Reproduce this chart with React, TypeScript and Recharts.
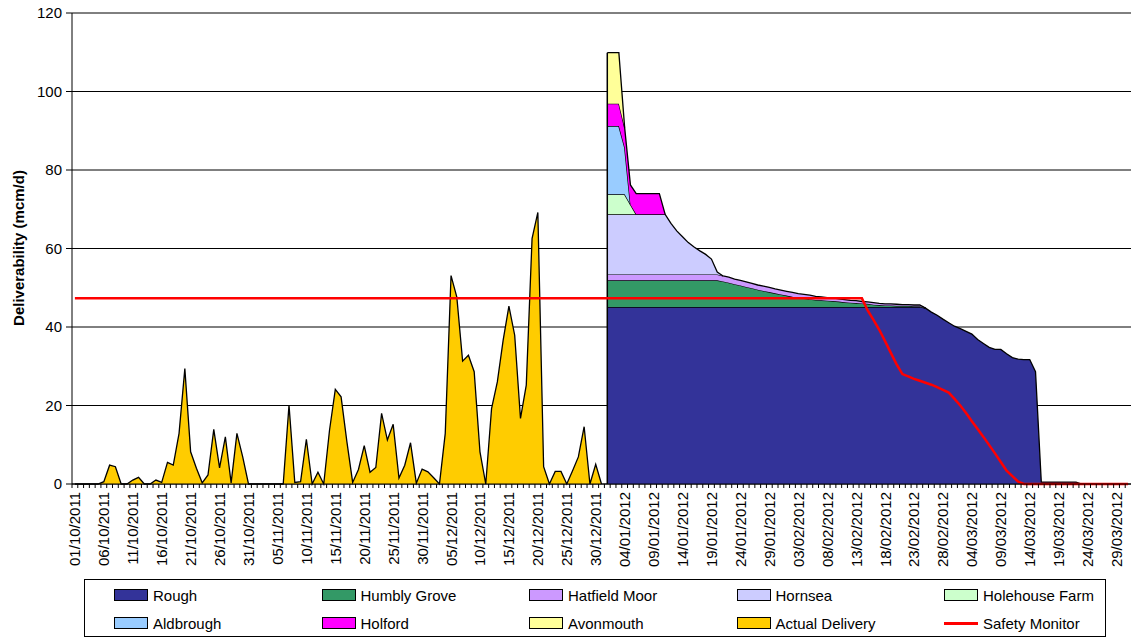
import React from 'react';
import {
  ComposedChart,
  Area,
  Line,
  XAxis,
  YAxis,
  CartesianGrid,
  ReferenceLine,
} from 'recharts';

// one row per gas day, 01/10/2011 .. 31/03/2012
const START = Date.UTC(2011, 9, 1);
const DAYS = 183;
const STORAGE_START = 92; // storage forecast begins 01/01/2012

const dateLabels = Array.from({ length: DAYS }, (_, i) => {
  const d = new Date(START + i * 86400000);
  const dd = String(d.getUTCDate()).padStart(2, '0');
  const mm = String(d.getUTCMonth() + 1).padStart(2, '0');
  return `${dd}/${mm}/${d.getUTCFullYear()}`;
});

// days 0..91
const actualDelivery = [
  0, 0, 0, 0, 0, 0.6, 4.8, 4.4, 0, 0,
  1.0, 1.7, 0, 0, 1.0, 0.4, 5.5, 4.8, 12.9, 29.4,
  8.2, 4.0, 0.3, 2.3, 13.9, 4.1, 12.0, 0.3, 12.9, 6.9,
  0, 0, 0, 0, 0, 0, 0, 20.1, 0.4, 0.6,
  11.4, 0, 3.0, 0, 13.7, 24.1, 22.2, 10.8, 0.4, 3.7,
  9.8, 3.0, 4.2, 18.0, 11.2, 15.2, 1.5, 4.8, 10.5, 0.2,
  3.8, 3.1, 1.6, 0, 12.9, 53.1, 47.6, 31.3, 32.8, 28.6,
  8.2, 0, 19.2, 26.0, 36.6, 45.3, 37.9, 16.7, 25.2, 62.5,
  69.2, 4.4, 0, 3.2, 3.2, 0, 3.4, 6.9, 14.6, 0,
  5.0, 0,
];

// storage series, from day 92 (01/01/2012)
const rough = [
  45.1, 45.1, 45.1, 45.1, 45.1, 45.1, 45.1, 45.1, 45.1, 45.1,
  45.1, 45.1, 45.1, 45.1, 45.1, 45.1, 45.1, 45.1, 45.1, 45.1,
  45.1, 45.1, 45.1, 45.1, 45.1, 45.1, 45.1, 45.1, 45.1, 45.1,
  45.1, 45.1, 45.1, 45.1, 45.1, 45.1, 45.1, 45.1, 45.1, 45.1,
  45.1, 45.1, 45.1, 45.1, 45.1, 45.1, 45.1, 45.1, 45.1, 45.1,
  45.1, 45.1, 45.1, 45.1, 45.1, 44.8, 43.8, 43.0, 42.0, 41.1,
  40.2, 39.6, 38.9, 38.2, 36.8, 35.8, 34.8, 34.3, 34.3, 33.2,
  32.2, 31.8, 31.7, 31.7, 28.6, 0.5, 0.5, 0.5, 0.5, 0.5,
  0.5, 0.5, 0, 0, 0, 0, 0, 0, 0, 0,
  0,
];
const humblyGrove = [
  6.8, 6.8, 6.8, 6.8, 6.8, 6.8, 6.8, 6.8, 6.8, 6.8,
  6.8, 6.8, 6.8, 6.8, 6.8, 6.8, 6.8, 6.8, 6.8, 6.8,
  6.5, 6.2, 5.8, 5.5, 5.1, 4.8, 4.4, 4.1, 3.8, 3.5,
  3.2, 2.9, 2.6, 2.3, 2.2, 2.0, 1.8, 1.7, 1.6, 1.5,
  1.4, 1.2, 1.1, 1.0, 0.9, 0.8, 0.6, 0.5, 0.4, 0.4,
  0.3, 0.3, 0.3, 0.2, 0.2, 0,
];
const hatfieldMoor = [
  1.5, 1.5, 1.5, 1.5, 1.5, 1.5, 1.5, 1.5, 1.5, 1.5,
  1.5, 1.5, 1.5, 1.5, 1.5, 1.5, 1.5, 1.5, 1.5, 1.5,
  1.4, 1.4, 1.3, 1.3, 1.3, 1.2, 1.2, 1.2, 1.2, 1.1,
  1.1, 1.1, 1.1, 1.1, 1.0, 1.0, 0.9, 0.9, 0.8, 0.8,
  0.7, 0.7, 0.6, 0.6, 0.5, 0.5, 0.5, 0.4, 0.4, 0.4,
  0.4, 0.3, 0.3, 0.3, 0.3, 0,
];
const hornsea = [
  15.3, 15.3, 15.3, 15.3, 15.3, 15.3, 15.3, 15.3, 15.3, 15.3,
  15.3, 13.0, 11.1, 9.6, 8.1, 7.0, 6.0, 5.1, 3.9, 0.6,
  0,
];
const holehouseFarm = [5.1, 5.1, 5.1, 5.1, 2.5, 0];
const aldbrough = [17.4, 17.4, 17.4, 12.0, 0];
const holford = [5.7, 5.7, 5.7, 5.0, 5.0, 5.3, 5.3, 5.3, 5.3, 5.3, 0];
const avonmouth = [13.0, 13.0, 13.0, 0];

// days 0..182
const safetyMonitor = [
  47.3, 47.3, 47.3, 47.3, 47.3, 47.3, 47.3, 47.3, 47.3, 47.3,
  47.3, 47.3, 47.3, 47.3, 47.3, 47.3, 47.3, 47.3, 47.3, 47.3,
  47.3, 47.3, 47.3, 47.3, 47.3, 47.3, 47.3, 47.3, 47.3, 47.3,
  47.3, 47.3, 47.3, 47.3, 47.3, 47.3, 47.3, 47.3, 47.3, 47.3,
  47.3, 47.3, 47.3, 47.3, 47.3, 47.3, 47.3, 47.3, 47.3, 47.3,
  47.3, 47.3, 47.3, 47.3, 47.3, 47.3, 47.3, 47.3, 47.3, 47.3,
  47.3, 47.3, 47.3, 47.3, 47.3, 47.3, 47.3, 47.3, 47.3, 47.3,
  47.3, 47.3, 47.3, 47.3, 47.3, 47.3, 47.3, 47.3, 47.3, 47.3,
  47.3, 47.3, 47.3, 47.3, 47.3, 47.3, 47.3, 47.3, 47.3, 47.3,
  47.3, 47.3, 47.3, 47.3, 47.3, 47.3, 47.3, 47.3, 47.3, 47.3,
  47.3, 47.3, 47.3, 47.3, 47.3, 47.3, 47.3, 47.3, 47.3, 47.3,
  47.3, 47.3, 47.3, 47.3, 47.3, 47.3, 47.3, 47.3, 47.3, 47.3,
  47.3, 47.3, 47.3, 47.3, 47.3, 47.3, 47.3, 47.3, 47.3, 47.3,
  47.3, 47.3, 47.3, 47.3, 47.3, 47.3, 47.3, 44.2, 41.8, 39.3,
  36.4, 33.4, 30.5, 28.0, 27.4, 26.8, 26.3, 25.8, 25.3, 24.7,
  24.0, 23.3, 21.7, 20.0, 18.1, 16.0, 14.0, 12.0, 9.9, 7.8,
  5.6, 3.4, 2.0, 0.6, 0, 0, 0, 0, 0, 0,
  0, 0, 0, 0, 0, 0, 0, 0, 0, 0,
  0, 0, 0,
];

const storage = [
  { key: 'rough', name: 'Rough', color: '#333399', values: rough },
  { key: 'humbly', name: 'Humbly Grove', color: '#339966', values: humblyGrove },
  { key: 'hatfield', name: 'Hatfield Moor', color: '#CC99FF', values: hatfieldMoor },
  { key: 'hornsea', name: 'Hornsea', color: '#CCCCFF', values: hornsea },
  { key: 'holehouse', name: 'Holehouse Farm', color: '#CCFFCC', values: holehouseFarm },
  { key: 'aldbrough', name: 'Aldbrough', color: '#99CCFF', values: aldbrough },
  { key: 'holford', name: 'Holford', color: '#FF00FF', values: holford },
  { key: 'avonmouth', name: 'Avonmouth', color: '#FFFF99', values: avonmouth },
];

const legendItems = [
  ...storage.map((s) => ({ name: s.name, color: s.color, line: false })),
  { name: 'Actual Delivery', color: '#FFCC00', line: false },
  { name: 'Safety Monitor', color: '#FF0000', line: true },
];

const data = dateLabels.map((date, i) => {
  const row: Record<string, any> = {
    day: i,
    date,
    actual: i < actualDelivery.length ? actualDelivery[i] : null,
    safety: safetyMonitor[i],
  };
  const k = i - STORAGE_START;
  storage.forEach((s) => {
    row[s.key] = k >= 0 && k < s.values.length ? s.values[k] : null;
  });
  return row;
});

const firstStorageTotal = storage.reduce((sum, s) => sum + s.values[0], 0);

const FONT = '"Liberation Sans", Arial, Helvetica, sans-serif';
const W = 1132;
const H = 639;
const PLOT_LEFT = 72;
const PLOT_RIGHT = 1131;
const BAND = (PLOT_RIGHT - PLOT_LEFT) / DAYS;
const dayTicks = dateLabels.map((_, i) => i);

function DayTick(props: any) {
  const { x, y, payload } = props;
  const i = payload.value as number;
  const bx = x - BAND / 2;
  return (
    <g>
      <line x1={bx} x2={bx} y1={y - 8} y2={y - 4} stroke="#000" strokeWidth={1} />
      {i % 5 === 0 && (
        <text
          x={x}
          y={y}
          transform={`rotate(-90 ${x} ${y})`}
          textAnchor="end"
          dominantBaseline="central"
          fontSize={15}
          fontFamily={FONT}
          fill="#000"
        >
          {dateLabels[i]}
        </text>
      )}
    </g>
  );
}

const yTitle = () => (
  <text
    x={18}
    y={248}
    transform="rotate(-90 18 248)"
    textAnchor="middle"
    dominantBaseline="central"
    fontSize={15}
    fontWeight="bold"
    fontFamily={FONT}
    fill="#000"
  >
    Deliverability (mcm/d)
  </text>
);

function ChartLegend() {
  return (
    <div
      style={{
        position: 'absolute',
        left: 84,
        top: 579,
        width: 1022,
        height: 58,
        border: '1px solid #000',
        boxSizing: 'border-box',
        fontFamily: FONT,
        fontSize: 15,
        background: '#fff',
      }}
    >
      {legendItems.map((item, idx) => {
        const col = idx % 5;
        const row = Math.floor(idx / 5);
        return (
          <div
            key={item.name}
            style={{
              position: 'absolute',
              left: 29 + col * 207.5,
              top: 6 + row * 28,
              height: 18,
              display: 'flex',
              alignItems: 'center',
              whiteSpace: 'nowrap',
            }}
          >
            {item.line ? (
              <span style={{ width: 34, height: 3, background: item.color, marginRight: 5 }} />
            ) : (
              <span
                style={{
                  width: 32,
                  height: 10,
                  background: item.color,
                  border: '1px solid #000',
                  marginRight: 5,
                }}
              />
            )}
            <span>{item.name}</span>
          </div>
        );
      })}
    </div>
  );
}

export default function App() {
  return (
    <div style={{ position: 'absolute', left: 0, top: 0, width: W, height: H, background: '#fff' }}>
      <ComposedChart
        width={W}
        height={H}
        data={data}
        margin={{ top: 13, right: W - PLOT_RIGHT, bottom: 0, left: 0 }}
      >
        <CartesianGrid vertical={false} stroke="#000" strokeWidth={1} />
        <XAxis
          dataKey="day"
          type="number"
          domain={[-0.5, DAYS - 0.5]}
          ticks={dayTicks}
          interval={0}
          height={H - 484 - 0}
          tick={<DayTick />}
          tickLine={false}
          tickSize={4}
          tickMargin={4}
          axisLine={{ stroke: '#000', strokeWidth: 1 }}
          allowDataOverflow
        />
        <YAxis
          type="number"
          domain={[0, 120]}
          ticks={[0, 20, 40, 60, 80, 100, 120]}
          interval={0}
          width={PLOT_LEFT}
          tick={{ fill: '#000', fontSize: 15, fontFamily: FONT }}
          tickLine={{ stroke: '#000' }}
          axisLine={{ stroke: '#000', strokeWidth: 1 }}
          tickSize={6}
          tickMargin={4}
          label={yTitle}
        />
        <Area
          dataKey="actual"
          name="Actual Delivery"
          type="linear"
          fill="#FFCC00"
          fillOpacity={1}
          stroke="#000"
          strokeWidth={1.3}
          dot={false}
          activeDot={false}
          isAnimationActive={false}
        />
        {storage.map((s) => (
          <Area
            key={s.key}
            dataKey={s.key}
            name={s.name}
            stackId="storage"
            type="linear"
            fill={s.color}
            fillOpacity={1}
            stroke="#000"
            strokeWidth={1.3}
            dot={false}
            activeDot={false}
            isAnimationActive={false}
          />
        ))}
        <ReferenceLine
          segment={[
            { x: STORAGE_START, y: 0 },
            { x: STORAGE_START, y: firstStorageTotal },
          ]}
          stroke="#000"
          strokeWidth={1.5}
        />
        <Line
          dataKey="safety"
          name="Safety Monitor"
          type="linear"
          stroke="#FF0000"
          strokeWidth={2.5}
          dot={false}
          activeDot={false}
          isAnimationActive={false}
        />
      </ComposedChart>
      <ChartLegend />
    </div>
  );
}
